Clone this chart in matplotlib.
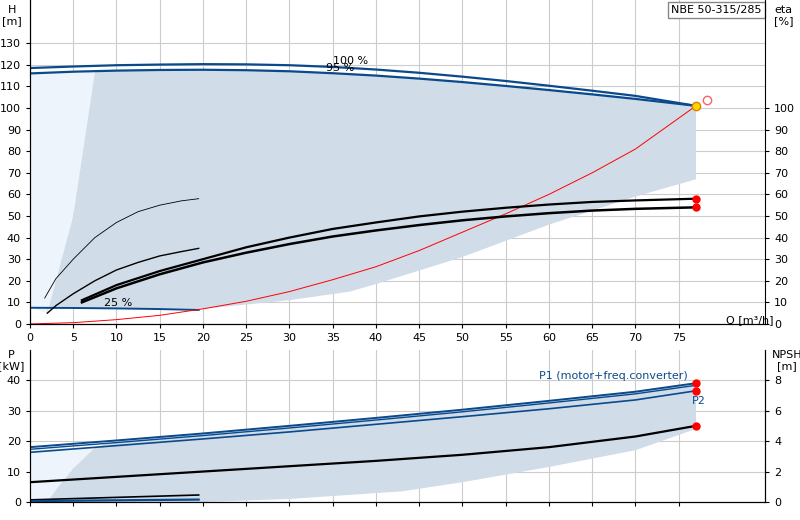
import matplotlib
matplotlib.use("Agg")
import matplotlib.pyplot as plt

# ---- data ----
q_h100 = [0, 5, 10, 15, 20, 25, 30, 35, 40, 45, 50, 55, 60, 65, 70, 77]
h_100 = [118.5, 119.2, 119.8, 120.1, 120.3, 120.2, 119.8, 119.0, 117.8, 116.3, 114.5, 112.5, 110.3, 108.0, 105.6, 101]
q_h95 = [0, 5, 10, 15, 20, 25, 30, 35, 40, 45, 50, 55, 60, 65, 70, 77]
h_95 = [116, 116.8, 117.3, 117.6, 117.7, 117.5, 117.0, 116.1, 115.0, 113.6, 112.0, 110.2, 108.3, 106.3, 104.2, 101]
q_h25 = [0, 5, 10, 15, 19.5]
h_25 = [7.5, 7.4, 7.2, 6.9, 6.5]
q_sys = [0, 5, 10, 15, 20, 25, 30, 35, 40, 45, 50, 55, 60, 65, 70, 77]
h_sys = [0, 0.6, 2, 4, 7, 10.5, 15, 20.5, 26.5, 34, 42.5, 51, 60, 70, 81, 101]
q_eta1 = [6, 10, 15, 20, 25, 30, 35, 40, 45, 50, 55, 60, 65, 70, 77]
eta_1 = [11, 18, 24.5, 30, 35.5, 40, 44, 47, 49.8, 52, 53.8, 55.3, 56.5, 57.2, 58]
q_eta2 = [6, 10, 15, 20, 25, 30, 35, 40, 45, 50, 55, 60, 65, 70, 77]
eta_2 = [10, 16.5, 23, 28.5, 33, 37, 40.5, 43.3, 45.8, 48, 49.8, 51.3, 52.5, 53.3, 54]
q_eta3 = [2, 3, 5, 7.5, 10, 12.5, 15, 17.5, 19.5]
eta_3 = [5, 8.5, 14, 20, 25, 28.5, 31.5, 33.5, 35]
q_eta4 = [1.7, 3, 5, 7.5, 10, 12.5, 15, 17.5, 19.5]
eta_4 = [12, 21, 30, 40, 47, 52, 55, 57, 58]
q_dark = [2, 3, 5, 6.5, 7.5, 10, 20, 30, 40, 50, 60, 70, 77, 77, 70, 60, 50, 40, 37, 30, 20, 10, 2]
h_dark = [5, 20, 50, 90, 116.5, 117.3, 117.7, 117.0, 115.0, 112.0, 108.3, 104.2, 101, 67, 59, 46, 31, 18.5, 15, 11, 7, 7.3, 7.5]
q_light = [0, 2, 3, 5, 6.5, 7.5, 0]
h_light = [7.5, 5, 20, 50, 90, 116.5, 116]

q_p = [0, 10, 20, 30, 40, 50, 60, 70, 77]
p1a = [18.0, 20.2, 22.5, 25.0, 27.6, 30.3, 33.2, 36.2, 39.0]
p1b = [17.3, 19.5, 21.8, 24.3, 26.9, 29.6, 32.5, 35.5, 38.3]
p2 = [16.3, 18.5, 20.7, 23.0, 25.5, 28.0, 30.6, 33.5, 36.5]
q_npsh = [0, 10, 20, 30, 40, 50, 60, 70, 77]
npsh = [1.3, 1.65, 2.0, 2.35, 2.7, 3.1, 3.6, 4.3, 5.0]
q_small = [0, 19.5]
p_small_k = [0.7, 2.3]
p_small_b = [0.3, 0.8]
q_pdark = [2, 3, 5, 7.5, 10, 20, 30, 40, 50, 60, 70, 77, 77, 70, 60, 50, 43, 30, 20, 2]
p_pdark = [0, 4, 11, 17.8, 20.2, 22.5, 25.0, 27.6, 30.3, 33.2, 36.2, 39.0, 24, 17, 11.5, 6.5, 3.5, 1, 0, 0]
q_plight = [0, 2, 3, 5, 7.5, 0]
p_plight = [0, 0, 4, 11, 17.8, 17.5]

DARK = "#d0dce8"
LIGHT = "#edf4fc"
BLUE = "#0a4a8c"
GRID = "#cccccc"

fig = plt.figure(figsize=(8, 5.2), dpi=100)
ax = fig.add_axes([0.0375, 0.377, 0.919, 0.623])
ax.fill(q_light, h_light, color=LIGHT, lw=0)
ax.fill(q_dark, h_dark, color=DARK, lw=0)
ax.plot(q_h100, h_100, color=BLUE, lw=1.6)
ax.plot(q_h95, h_95, color=BLUE, lw=1.6)
ax.plot(q_h25, h_25, color=BLUE, lw=1.4)
ax.plot(q_sys, h_sys, color="red", lw=0.7)
ax.plot(q_eta1, eta_1, color="black", lw=1.6)
ax.plot(q_eta2, eta_2, color="black", lw=1.8)
ax.plot(q_eta3, eta_3, color="black", lw=1.0)
ax.plot(q_eta4, eta_4, color="black", lw=0.6)
ax.plot([q_eta1[-1], q_eta2[-1]], [eta_1[-1], eta_2[-1]], "o", color="red", ms=5, ls="none")
ax.plot([77], [101], "o", color="#ffd700", mec="#e08000", ms=6)
ax.plot([78.3], [103.5], "o", mfc="none", mec="#ff6060", ms=6)
ax.text(35, 120.5, "100 %", fontsize=8)
ax.text(34.2, 117.3, "95 %", fontsize=8)
ax.text(8.5, 8.5, "25 %", fontsize=8)
ax.set_xlim(0, 85)
ax.set_ylim(0, 150)
ax.set_xticks(range(0, 80, 5))
ax.set_yticks(range(0, 140, 10))
ax.tick_params(labelsize=8, length=3)
ax.grid(True, color=GRID, lw=0.8)
ax.set_axisbelow(True)
ax.text(-0.025, 0.985, "H\n[m]", transform=ax.transAxes, ha="center", va="top", fontsize=8)
ax.text(80.5, 2, "Q [m³/h]", fontsize=8, va="center")
for s in ["top", "right"]:
    ax.spines[s].set_visible(False)
axr = ax.twinx()
axr.set_ylim(0, 150)
axr.set_yticks(range(0, 110, 10))
axr.tick_params(labelsize=8, length=3)
axr.spines["top"].set_visible(False)
axr.text(1.025, 0.985, "eta\n[%]", transform=ax.transAxes, ha="center", va="top", fontsize=8)
ax.text(0.995, 0.985, "NBE 50-315/285", transform=ax.transAxes, ha="right", va="top", fontsize=8,
        bbox=dict(facecolor="white", edgecolor="#888888", boxstyle="square,pad=0.3"))

bx = fig.add_axes([0.0375, 0.0346, 0.919, 0.293])
bx.fill(q_plight, p_plight, color=LIGHT, lw=0)
bx.fill(q_pdark, p_pdark, color=DARK, lw=0)
bx.plot(q_p, p1a, color=BLUE, lw=1.4)
bx.plot(q_p, p1b, color=BLUE, lw=1.0)
bx.plot(q_p, p2, color=BLUE, lw=1.2)
bx.plot(q_npsh, [v * 5 for v in npsh], color="black", lw=1.6)
bx.plot(q_small, p_small_k, color="black", lw=1.2)
bx.plot(q_small, p_small_b, color=BLUE, lw=1.6)
bx.plot([77, 77, 77], [p1a[-1], p2[-1], npsh[-1] * 5], "o", color="red", ms=5, ls="none")
bx.text(76, 40.5, "P1 (motor+freq.converter)", color=BLUE, fontsize=8, ha="right")
bx.text(76.5, 32, "P2", color=BLUE, fontsize=8)
bx.set_xlim(0, 85)
bx.set_ylim(0, 50)
bx.set_xticks(range(0, 80, 5))
bx.set_xticklabels([])
bx.set_yticks(range(0, 50, 10))
bx.tick_params(labelsize=8, length=3)
bx.grid(True, color=GRID, lw=0.8)
bx.set_axisbelow(True)
bx.spines["top"].set_visible(False)
bx.text(-0.025, 1.0, "P\n[kW]", transform=bx.transAxes, ha="center", va="top", fontsize=8)
bxr = bx.twinx()
bxr.set_ylim(0, 10)
bxr.set_yticks(range(0, 10, 2))
bxr.tick_params(labelsize=8, length=3)
bxr.spines["top"].set_visible(False)
bxr.text(1.03, 1.0, "NPSH\n[m]", transform=bx.transAxes, ha="center", va="top", fontsize=8)

fig.savefig("out.png", dpi=100)
